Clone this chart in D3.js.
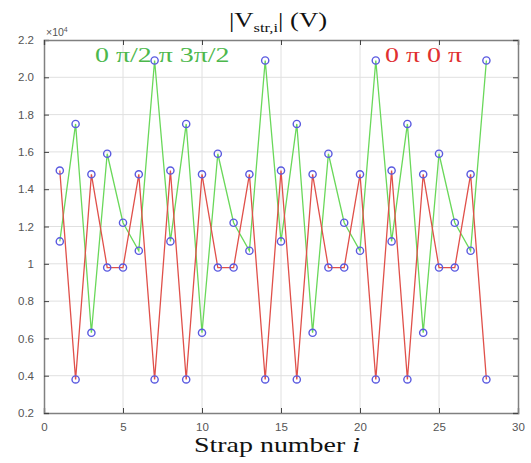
<!DOCTYPE html>
<html><head><meta charset="utf-8">
<script src="https://cdn.jsdelivr.net/npm/d3@7"></script>
<style>body{margin:0;background:#fff}svg{display:block}</style>
</head><body>
<svg id="c" width="531" height="463"></svg>
<script>
const strap = d3.range(1, 29);
const redVals = [1.50,0.38,1.48,0.98,0.98,1.48,0.38, 1.50,0.38,1.48,0.98,0.98,1.48,0.38, 1.50,0.38,1.48,0.98,0.98,1.48,0.38, 1.50,0.38,1.48,0.98,0.98,1.48,0.38];
const greenVals = [1.12,1.75,0.63,1.59,1.22,1.07,2.09, 1.12,1.75,0.63,1.59,1.22,1.07,2.09, 1.12,1.75,0.63,1.59,1.22,1.07,2.09, 1.12,1.75,0.63,1.59,1.22,1.07,2.09];
const xTicks = [0,5,10,15,20,25,30];
const yTicks = [0.2,0.4,0.6,0.8,1,1.2,1.4,1.6,1.8,2,2.2];
const greenLabel = "0 \u03c0/2 \u03c0 3\u03c0/2";
const redLabel = "0 \u03c0 0 \u03c0";

const svg = d3.select("#c");
const L=44, R=518, T=40, B=413;
const x = d3.scaleLinear().domain([0,30]).range([L,R]);
const y = d3.scaleLinear().domain([0.2,2.2]).range([B,T]);
const serif = "Liberation Serif, Times New Roman, serif";
const SX = 1.27; // horizontal stretch seen in the reference's text

// grid
const g = svg.append("g");
g.selectAll(".gx").data(xTicks.slice(1,-1)).join("line")
 .attr("x1",d=>x(d)).attr("x2",d=>x(d)).attr("y1",T).attr("y2",B)
 .attr("stroke","#e0e0e0").attr("stroke-width",1);
g.selectAll(".gy").data(yTicks.slice(1,-1)).join("line")
 .attr("y1",d=>y(d)).attr("y2",d=>y(d)).attr("x1",L).attr("x2",R)
 .attr("stroke","#e0e0e0").attr("stroke-width",1);

// axes
const axColor="#808080";
const fmtY = d=> d===1? "1" : d3.format(".1f")(d);
const ax = svg.append("g").attr("transform",`translate(0,${B})`)
 .call(d3.axisBottom(x).tickValues(xTicks).tickSize(-5).tickPadding(10));
const ay = svg.append("g").attr("transform",`translate(${L},0)`)
 .call(d3.axisLeft(y).tickValues(yTicks).tickFormat(fmtY).tickSize(-5).tickPadding(10));
const axT = svg.append("g").attr("transform",`translate(0,${T})`)
 .call(d3.axisTop(x).tickValues(xTicks).tickSize(-5).tickFormat(""));
const axR = svg.append("g").attr("transform",`translate(${R},0)`)
 .call(d3.axisRight(y).tickValues(yTicks).tickSize(-5).tickFormat(""));
[ax,ay,axT,axR].forEach(a=>{
  a.select(".domain").attr("stroke",axColor).attr("stroke-width",1.5);
  a.selectAll(".tick line").attr("stroke","#444");
  a.selectAll("text").attr("fill","#555").attr("font-family","Liberation Sans, Arial, sans-serif").attr("font-size",11.5);
});

// lines
const line = vals => d3.line().x((d,i)=>x(strap[i])).y(d=>y(d))(vals);
svg.append("path").attr("d",line(greenVals)).attr("fill","none").attr("stroke","#6ad85a").attr("stroke-width",1.3);
svg.append("path").attr("d",line(redVals)).attr("fill","none").attr("stroke","#e0504a").attr("stroke-width",1.3);

// markers
const pts = strap.map((s,i)=>({s,v:redVals[i]})).concat(strap.map((s,i)=>({s,v:greenVals[i]})));
svg.selectAll(".m").data(pts).join("circle")
 .attr("cx",d=>x(d.s)).attr("cy",d=>y(d.v)).attr("r",3.6)
 .attr("fill","none").attr("stroke","#5a5ae0").attr("stroke-width",1.4);

// texts
function stretched(cx, cy, anchor){
  return svg.append("g").attr("transform",`translate(${cx},${cy}) scale(${SX},1)`)
    .append("text").attr("text-anchor",anchor).attr("font-family",serif).attr("font-size",21);
}
const title = stretched(278,27,"middle").attr("fill","#111");
title.append("tspan").text("|V");
title.append("tspan").attr("font-size",13).attr("dy",5).text("str,i");
title.append("tspan").attr("dy",-5).text("| (V)");

const ex = svg.append("text").attr("x",46).attr("y",36)
 .attr("font-family","Liberation Sans, Arial, sans-serif").attr("font-size",10.5).attr("fill","#555");
ex.append("tspan").text("\u00d710");
ex.append("tspan").attr("font-size",7).attr("dy",-4).text("4");

stretched(95,62,"start").attr("font-size",22).attr("fill","#4cb84c").text(greenLabel);
stretched(385,62,"start").attr("font-size",22).attr("fill","#e03030").text(redLabel);

const xl = stretched(277,452,"middle").attr("font-size",22).attr("fill","#111");
xl.append("tspan").text("Strap number ");
xl.append("tspan").attr("font-style","italic").text("i");
</script>
</body></html>
